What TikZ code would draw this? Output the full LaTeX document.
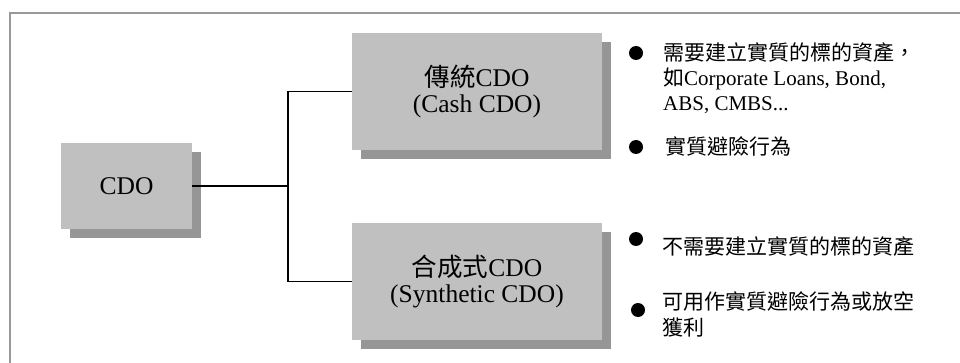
\documentclass[tikz,border=0pt]{standalone}
\usepackage{fontspec}
\setmainfont{Liberation Serif}
\newfontfamily\cjk{Noto Sans CJK TC}
\usetikzlibrary{shadows}
\definecolor{boxgray}{HTML}{C0C0C0}
\definecolor{shadowgray}{HTML}{969696}
\definecolor{framegray}{HTML}{999999}
\begin{document}
\begin{tikzpicture}[x=1pt,y=-1pt,
  box/.style={draw=none, fill=boxgray, inner sep=0pt, align=center,
    font=\fontsize{25.5}{26}\selectfont,
    drop shadow={shadow xshift=9pt, shadow yshift=-9pt, fill=shadowgray, opacity=1}},
  conn/.style={line width=1.5pt, black},
  dot/.style={circle, fill=black, inner sep=0pt, minimum size=14pt},
  note/.style={anchor=north west, inner sep=0pt, align=left,
    font=\fontsize{21}{25}\selectfont}]
\useasboundingbox (0,0) rectangle (960,363);
\draw[framegray, line width=1.5pt] (10,363) -- (10,13) -- (960,13);

\node[box, minimum width=131pt, minimum height=86pt] (cdo) at (126.5,186) {CDO};
\node[box, minimum width=250pt, minimum height=117pt] (cash) at (477,91.5)
  {{\cjk 傳統}CDO\\(Cash CDO)};
\node[box, minimum width=250pt, minimum height=117pt] (syn) at (477,281.5)
  {{\cjk 合成式}CDO\\(Synthetic CDO)};

\coordinate (j) at (288,186);
\draw[conn] (cdo.east) -- (j);
\draw[conn] (cash.west) -| (j) |- (syn.west);

\node[dot] (d1) at (636,53) {};
\node[dot] (d2) at (636,147) {};
\node[dot] (d3) at (636,239) {};
\node[dot] (d4) at (638,310) {};

\node[note] (n1) at (663,42.5)
  {{\cjk 需要建立實質的標的資產，}\\{\cjk 如}Corporate Loans, Bond,\\ABS, CMBS...};
\node[note] (n2) at (665,136.5) {\cjk 實質避險行為};
\node[note] (n3) at (662,236.5) {\cjk 不需要建立實質的標的資產};
\node[note, font=\fontsize{21}{26}\selectfont] (n4) at (662,291.5)
  {{\cjk 可用作實質避險行為或放空}\\{\cjk 獲利}};
\end{tikzpicture}
\end{document}
